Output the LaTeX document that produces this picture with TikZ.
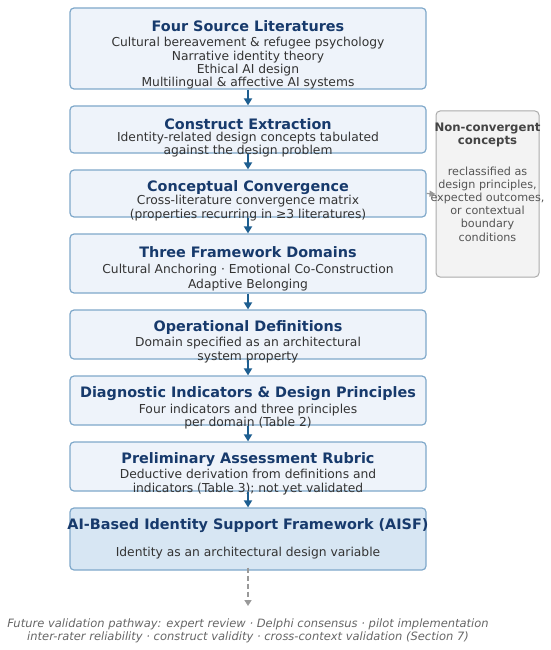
\documentclass[tikz,border=0pt]{standalone}
\usepackage{fontspec}
\setmainfont{DejaVu Sans}
\usetikzlibrary{arrows.meta}
\definecolor{boxfill}{HTML}{EEF3FA}
\definecolor{boxdraw}{HTML}{7FA8CA}
\definecolor{ttlcol}{HTML}{173A6C}
\definecolor{bodycol}{HTML}{333333}
\definecolor{arrcol}{HTML}{1D5E90}
\definecolor{aisffill}{HTML}{D7E6F3}
\definecolor{sidefill}{HTML}{F3F3F3}
\definecolor{sidedraw}{HTML}{ABABAB}
\definecolor{sidettl}{HTML}{444444}
\definecolor{sidetxt}{HTML}{555555}
\definecolor{graycol}{HTML}{999999}
\definecolor{footcol}{HTML}{666666}
\begin{document}
\begin{tikzpicture}[x=1pt,y=-1pt,
 box/.style={draw=boxdraw, fill=boxfill, line width=1.2pt, rounded corners=4pt, minimum width=356pt, inner sep=0pt},
 ttl/.style={font=\fontsize{14.4}{16}\selectfont\bfseries, text=ttlcol, inner sep=0pt},
 bdy/.style={font=\fontsize{12.3}{13.4}\selectfont, text=bodycol, align=center, inner sep=0pt},
 flow/.style={draw=arrcol, line width=2pt, -{Triangle[length=7pt,width=8pt]}},
 sideflow/.style={draw=graycol, line width=1.2pt, -{Triangle[length=6pt,width=6pt]}},
]
\useasboundingbox (0,0) rectangle (550,650);
% boxes
\node[box, minimum height=81pt] (b1) at (248,48.5) {};
\node[box, minimum height=47pt] (b2) at (248,129.5) {};
\node[box, minimum height=47pt] (b3) at (248,193.5) {};
\node[box, minimum height=59pt] (b4) at (248,263.5) {};
\node[box, minimum height=49pt] (b5) at (248,334.5) {};
\node[box, minimum height=49pt] (b6) at (248,400.5) {};
\node[box, minimum height=49pt] (b7) at (248,466.5) {};
\node[box, fill=aisffill, minimum height=62pt] (b8) at (248,539) {};
\node[draw=sidedraw, fill=sidefill, line width=1pt, rounded corners=4pt, minimum width=103pt, minimum height=166pt, inner sep=0pt] (side) at (487.5,194) {};
% texts
\node[ttl] (t1) at (248,26) {Four Source Literatures};
\node[bdy] (d1) at (248,63.5) {Cultural bereavement \& refugee psychology\\Narrative identity theory\\Ethical AI design\\Multilingual \& affective AI systems};
\node[ttl] (t2) at (248,124) {Construct Extraction};
\node[bdy] (d2) at (248,144.5) {Identity-related design concepts tabulated\\against the design problem};
\node[ttl] (t3) at (248,188) {Conceptual Convergence};
\node[bdy] (d3) at (248,208) {Cross-literature convergence matrix\\(properties recurring in ≥3 literatures)};
\node[ttl] (t4) at (248,252) {Three Framework Domains};
\node[bdy, font=\fontsize{12.3}{15}\selectfont] (d4) at (248,278) {Cultural Anchoring · Emotional Co-Construction\\Adaptive Belonging};
\node[ttl] (t5) at (248,327.5) {Operational Definitions};
\node[bdy] (d5) at (248,350) {Domain specified as an architectural\\system property};
\node[ttl] (t6) at (248,394) {Diagnostic Indicators \& Design Principles};
\node[bdy] (d6) at (248,416.5) {Four indicators and three principles\\per domain (Table 2)};
\node[ttl] (t7) at (248,460) {Preliminary Assessment Rubric};
\node[bdy] (d7) at (248,482) {Deductive derivation from definitions and\\indicators (Table 3); not yet validated};
\node[ttl] (t8) at (248,526) {AI-Based Identity Support Framework (AISF)};
\node[bdy] (d8) at (248,553.5) {Identity as an architectural design variable};
\node[font=\fontsize{11.7}{13.4}\selectfont\bfseries, text=sidettl, align=center, inner sep=0pt] (st) at (487.5,135) {Non-convergent\\concepts};
\node[font=\fontsize{11.2}{13.2}\selectfont, text=sidetxt, align=center, inner sep=0pt] (sd) at (487.5,204) {reclassified as\\design principles,\\expected outcomes,\\or contextual\\boundary\\conditions};
\node[font=\fontsize{11.5}{13.2}\selectfont\itshape, text=footcol, align=center, inner sep=0pt] (foot) at (248,630.5) {Future validation pathway: expert review · Delphi consensus · pilot implementation\\inter-rater reliability · construct validity · cross-context validation (Section 7)};
% connectors
\draw[flow] (b1.south) -- (b2.north);
\draw[flow] (b2.south) -- (b3.north);
\draw[flow] (b3.south) -- (b4.north);
\draw[flow] (b4.south) -- (b5.north);
\draw[flow] (b5.south) -- (b6.north);
\draw[flow] (b6.south) -- (b7.north);
\draw[flow] (b7.south) -- (b8.north);
\draw[sideflow] (b3.east) -- (side.west);
\coordinate (fv) at (248,606);
\draw[draw=graycol, line width=1.6pt, dash pattern=on 5pt off 3pt, -{Triangle[length=6pt,width=7pt]}] ([yshift=3pt]b8.south) -- (fv);
\end{tikzpicture}
\end{document}
